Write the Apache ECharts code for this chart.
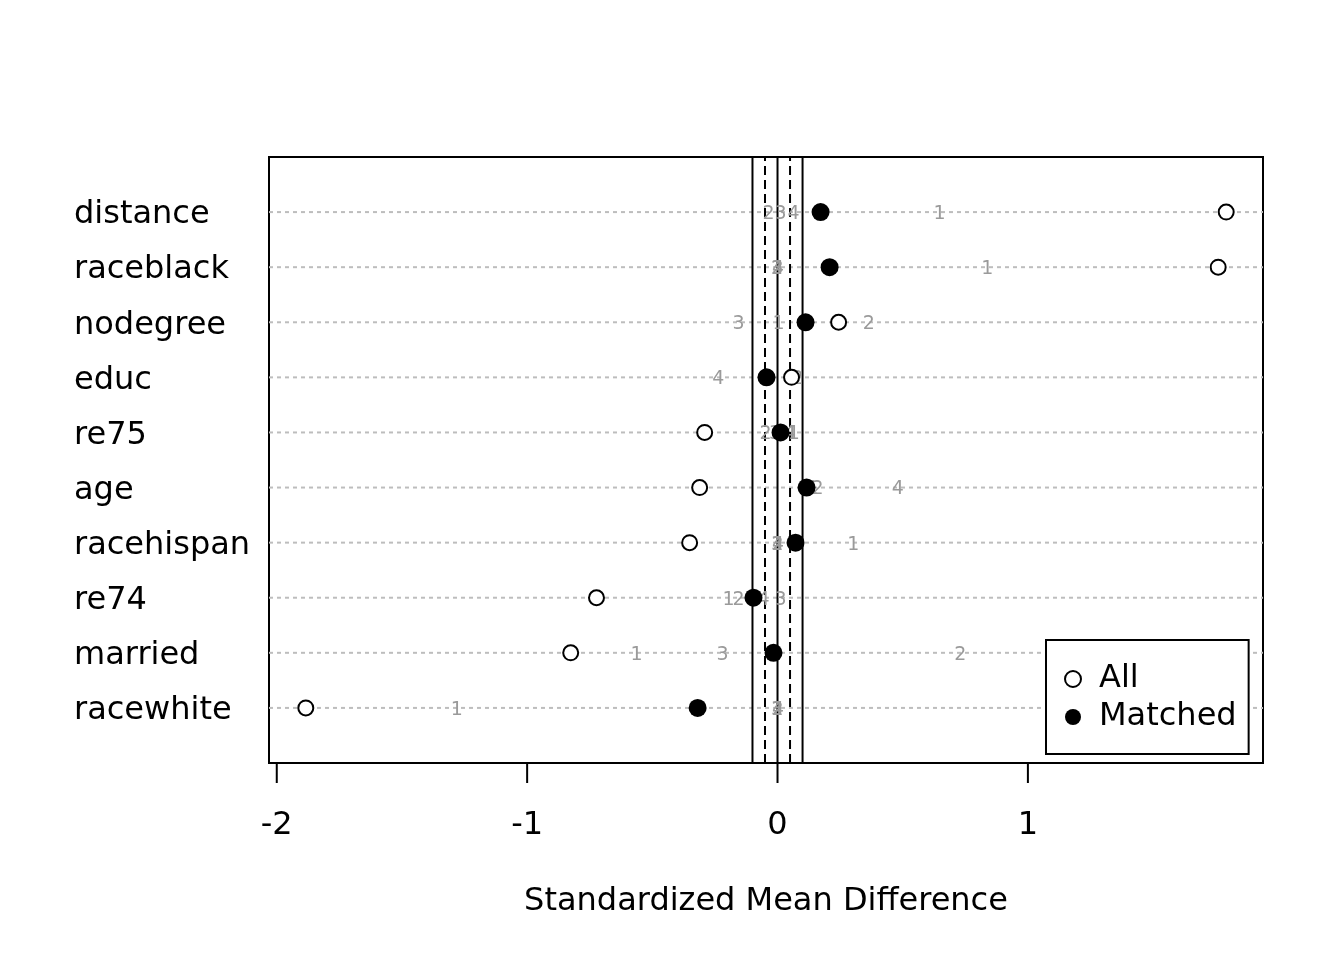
<!DOCTYPE html>
<html><head><meta charset="utf-8">
<script src="https://cdn.jsdelivr.net/npm/echarts@6.0.0/dist/echarts.min.js"></script>
<style>html,body{margin:0;padding:0;background:#fff}#c{width:1344px;height:960px}</style>
</head><body><div id="c"></div>
<script>
const variables = ['distance','raceblack','nodegree','educ','re75','age','racehispan','re74','married','racewhite'];
const allSMD     = [1.792, 1.760, 0.244, 0.056, -0.291, -0.311, -0.351, -0.723, -0.826, -1.884];
const matchedSMD = [0.172, 0.208, 0.112, -0.044, 0.012, 0.116, 0.072, -0.096, -0.016, -0.319];
const sub1 = [0.647, 0.838, 0.004, 0.060, 0.065, 0.140, 0.303, -0.196, -0.563, -1.281];
const sub2 = [-0.036, -0.002, 0.365, 0.080, -0.048, 0.160, 0.000, -0.156, 0.730, 0.000];
const sub3 = [0.012, 0.000, -0.156, -0.045, -0.010, 0.110, -0.002, 0.012, -0.220, -0.002];
const sub4 = [0.064, 0.002, 0.110, -0.237, 0.050, 0.480, 0.002, -0.056, -0.016, 0.002];
const tickValues = [-2, -1, 0, 1];
const refSolid = [-0.1, 0, 0.1];
const refDashed = [-0.05, 0.05];
const xMin = -2.031, xMax = 1.939;

const FONT = 'DejaVu Sans';
const nRows = variables.length;
const rowY = i => nRows - i;

const subText = [];
[sub1, sub2, sub3, sub4].forEach((arr, k) => {
  arr.forEach((v, i) => subText.push([v, rowY(i), String(k + 1)]));
});

const chart = echarts.init(document.getElementById('c'), null, {renderer: 'canvas'});
chart.setOption({
  animation: false,
  backgroundColor: '#fff',
  textStyle: {fontFamily: FONT},
  grid: {left: 269, right: 81, top: 157, bottom: 197, show: true, borderColor: '#000', borderWidth: 2, backgroundColor: 'transparent'},
  xAxis: {
    type: 'value', min: xMin, max: xMax,
    axisLine: {show: false}, axisTick: {show: false}, axisLabel: {show: false}, splitLine: {show: false},
    name: 'Standardized Mean Difference', nameLocation: 'middle', nameGap: 123,
    nameTextStyle: {fontSize: 32, color: '#000', fontFamily: FONT}
  },
  yAxis: {
    type: 'value', min: 0, max: nRows + 1, interval: 1,
    axisLine: {show: false}, axisTick: {show: false}, splitLine: {show: false},
    axisLabel: {
      show: true, align: 'left', margin: 195, fontSize: 32, color: '#000', fontFamily: FONT,
      formatter: v => (v >= 1 && v <= nRows) ? '{a|' + variables[nRows - v] + '}' : '',
      rich: {a: {fontSize: 32, color: '#000', fontFamily: FONT, padding: [6, 0, 0, 0]}}
    }
  },
  legend: {
    data: ['All', 'Matched'], orient: 'vertical', left: 1046, top: 640,
    padding: [23, 12, 21, 18], itemGap: 6, itemWidth: 16, itemHeight: 16,
    backgroundColor: '#fff', borderColor: '#000', borderWidth: 2, borderRadius: 0,
    textStyle: {fontSize: 32, color: '#000', fontFamily: FONT, padding: [0, 0, 0, 13]}
  },
  series: [
    {
      type: 'custom', name: 'rows', z: 1, silent: true,
      data: variables.map((v, i) => [rowY(i)]),
      renderItem: (params, api) => {
        const y = api.value(0);
        const a = api.coord([xMin, y]), b = api.coord([xMax, y]);
        return {type: 'line', shape: {x1: a[0], y1: a[1], x2: b[0], y2: b[1]},
          style: {stroke: '#bdbdbd', lineWidth: 2, lineDash: [4, 4]}};
      }
    },
    {
      type: 'custom', name: 'refs', z: 2, silent: true,
      data: refSolid.map(v => [v, 0]).concat(refDashed.map(v => [v, 1])),
      renderItem: (params, api) => {
        const v = api.value(0), dashed = api.value(1) === 1;
        const a = api.coord([v, 0]), b = api.coord([v, nRows + 1]);
        return {type: 'line', shape: {x1: a[0], y1: a[1], x2: b[0], y2: b[1]},
          style: {stroke: '#000', lineWidth: 2, lineDash: dashed ? [9, 5] : null}};
      }
    },
    {
      type: 'custom', name: 'axis', z: 2, silent: true,
      data: tickValues.map(v => [v]),
      renderItem: (params, api) => {
        const v = api.value(0);
        const p = api.coord([v, 0]);
        return {type: 'group', children: [
          {type: 'line', shape: {x1: p[0], y1: p[1], x2: p[0], y2: p[1] + 20}, style: {stroke: '#000', lineWidth: 2}},
          {type: 'text', x: p[0], y: p[1] + 63, style: {text: String(v), font: '32px "DejaVu Sans"', fill: '#000', align: 'center', verticalAlign: 'middle'}}
        ]};
      }
    },
    {
      type: 'custom', name: 'subclass', z: 3, silent: true,
      data: subText,
      renderItem: (params, api) => {
        const d = subText[params.dataIndex];
        const p = api.coord([d[0], d[1]]);
        return {type: 'text', x: p[0], y: p[1] + 2, style: {text: d[2], font: '19px "DejaVu Sans"', fill: '#9a9a9a', align: 'center', verticalAlign: 'middle'}};
      }
    },
    {
      type: 'scatter', name: 'All', z: 4, symbol: 'circle', symbolSize: 15,
      itemStyle: {color: '#fff', borderColor: '#000', borderWidth: 2, opacity: 1},
      data: allSMD.map((v, i) => [v, rowY(i)])
    },
    {
      type: 'scatter', name: 'Matched', z: 5, symbol: 'circle', symbolSize: 18,
      itemStyle: {color: '#000', opacity: 1},
      data: matchedSMD.map((v, i) => [v, rowY(i)])
    }
  ]
});
</script></body></html>
